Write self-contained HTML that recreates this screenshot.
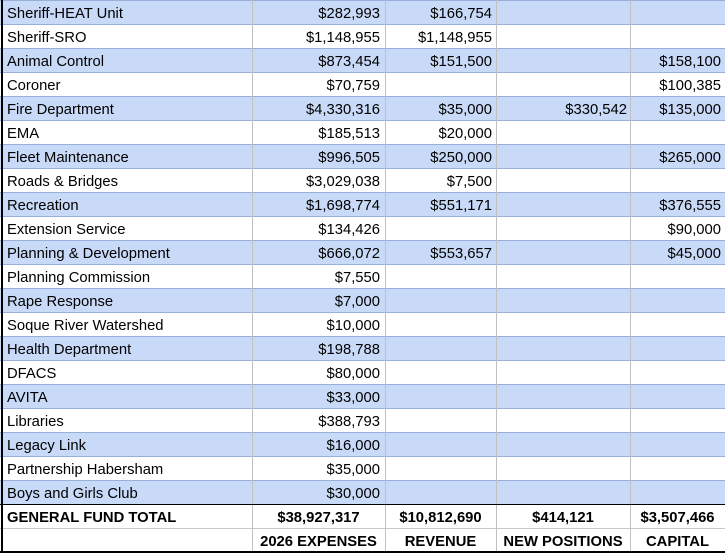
<!DOCTYPE html>
<html>
<head>
<meta charset="utf-8">
<style>
html,body{margin:0;padding:0;background:#fff;}
body{width:725px;height:555px;position:relative;overflow:hidden;font-family:"Liberation Sans",Arial,sans-serif;font-size:14.8px;color:#000;}
.r{position:absolute;left:0;width:725px;height:24px;}
.b{background:#c9daf8;}
.c{position:absolute;top:1.5px;height:24px;line-height:24px;white-space:nowrap;}
.c0{left:7px;}
.c1{left:252px;width:128px;text-align:right;}
.c2{left:385px;width:107px;text-align:right;}
.c3{left:496px;width:131px;text-align:right;}
.c4{left:630px;width:91px;text-align:right;}
.t .c{font-weight:bold;top:2px;}
.t .c1{left:252px;width:133px;text-align:center;}
.t .c2{left:385px;width:111px;text-align:center;}
.t .c3{left:496px;width:134px;text-align:center;}
.t .c4{left:630px;width:95px;text-align:center;}
.h{position:absolute;left:0;width:725px;height:1px;background:#98afd9;}
.v{position:absolute;top:0;width:1px;height:552px;background:#c0c0c0;}
</style>
</head>
<body>
<div class="r b" style="top:0"><span class="c c0">Sheriff-HEAT Unit</span><span class="c c1">$282,993</span><span class="c c2">$166,754</span></div>
<div class="r" style="top:24px"><span class="c c0">Sheriff-SRO</span><span class="c c1">$1,148,955</span><span class="c c2">$1,148,955</span></div>
<div class="r b" style="top:48px"><span class="c c0">Animal Control</span><span class="c c1">$873,454</span><span class="c c2">$151,500</span><span class="c c4">$158,100</span></div>
<div class="r" style="top:72px"><span class="c c0">Coroner</span><span class="c c1">$70,759</span><span class="c c4">$100,385</span></div>
<div class="r b" style="top:96px"><span class="c c0">Fire Department</span><span class="c c1">$4,330,316</span><span class="c c2">$35,000</span><span class="c c3">$330,542</span><span class="c c4">$135,000</span></div>
<div class="r" style="top:120px"><span class="c c0">EMA</span><span class="c c1">$185,513</span><span class="c c2">$20,000</span></div>
<div class="r b" style="top:144px"><span class="c c0">Fleet Maintenance</span><span class="c c1">$996,505</span><span class="c c2">$250,000</span><span class="c c4">$265,000</span></div>
<div class="r" style="top:168px"><span class="c c0">Roads &amp; Bridges</span><span class="c c1">$3,029,038</span><span class="c c2">$7,500</span></div>
<div class="r b" style="top:192px"><span class="c c0">Recreation</span><span class="c c1">$1,698,774</span><span class="c c2">$551,171</span><span class="c c4">$376,555</span></div>
<div class="r" style="top:216px"><span class="c c0">Extension Service</span><span class="c c1">$134,426</span><span class="c c4">$90,000</span></div>
<div class="r b" style="top:240px"><span class="c c0">Planning &amp; Development</span><span class="c c1">$666,072</span><span class="c c2">$553,657</span><span class="c c4">$45,000</span></div>
<div class="r" style="top:264px"><span class="c c0">Planning Commission</span><span class="c c1">$7,550</span></div>
<div class="r b" style="top:288px"><span class="c c0">Rape Response</span><span class="c c1">$7,000</span></div>
<div class="r" style="top:312px"><span class="c c0">Soque River Watershed</span><span class="c c1">$10,000</span></div>
<div class="r b" style="top:336px"><span class="c c0">Health Department</span><span class="c c1">$198,788</span></div>
<div class="r" style="top:360px"><span class="c c0">DFACS</span><span class="c c1">$80,000</span></div>
<div class="r b" style="top:384px"><span class="c c0">AVITA</span><span class="c c1">$33,000</span></div>
<div class="r" style="top:408px"><span class="c c0">Libraries</span><span class="c c1">$388,793</span></div>
<div class="r b" style="top:432px"><span class="c c0">Legacy Link</span><span class="c c1">$16,000</span></div>
<div class="r" style="top:456px"><span class="c c0">Partnership Habersham</span><span class="c c1">$35,000</span></div>
<div class="r b" style="top:480px"><span class="c c0">Boys and Girls Club</span><span class="c c1">$30,000</span></div>
<div class="r t" style="top:504px"><span class="c c0">GENERAL FUND TOTAL</span><span class="c c1">$38,927,317</span><span class="c c2">$10,812,690</span><span class="c c3">$414,121</span><span class="c c4">$3,507,466</span></div>
<div class="r t" style="top:528px"><span class="c c1">2026 EXPENSES</span><span class="c c2">REVENUE</span><span class="c c3">NEW POSITIONS</span><span class="c c4">CAPITAL</span></div>

<div class="h" style="top:0"></div>
<div class="h" style="top:24px"></div>
<div class="h" style="top:48px"></div>
<div class="h" style="top:72px"></div>
<div class="h" style="top:96px"></div>
<div class="h" style="top:120px"></div>
<div class="h" style="top:144px"></div>
<div class="h" style="top:168px"></div>
<div class="h" style="top:192px"></div>
<div class="h" style="top:216px"></div>
<div class="h" style="top:240px"></div>
<div class="h" style="top:264px"></div>
<div class="h" style="top:288px"></div>
<div class="h" style="top:312px"></div>
<div class="h" style="top:336px"></div>
<div class="h" style="top:360px"></div>
<div class="h" style="top:384px"></div>
<div class="h" style="top:408px"></div>
<div class="h" style="top:432px"></div>
<div class="h" style="top:456px"></div>
<div class="h" style="top:480px"></div>
<div class="h" style="top:528px;background:#c8c8c8"></div>

<div class="v" style="left:252px"></div>
<div class="v" style="left:385px"></div>
<div class="v" style="left:496px"></div>
<div class="v" style="left:630px"></div>

<div style="position:absolute;left:0;top:504px;width:725px;height:1px;background:#000"></div>
<div style="position:absolute;left:0;top:551px;width:725px;height:2px;background:#000"></div>
<div style="position:absolute;left:1px;top:0;width:2px;height:553px;background:#000"></div>
</body>
</html>
